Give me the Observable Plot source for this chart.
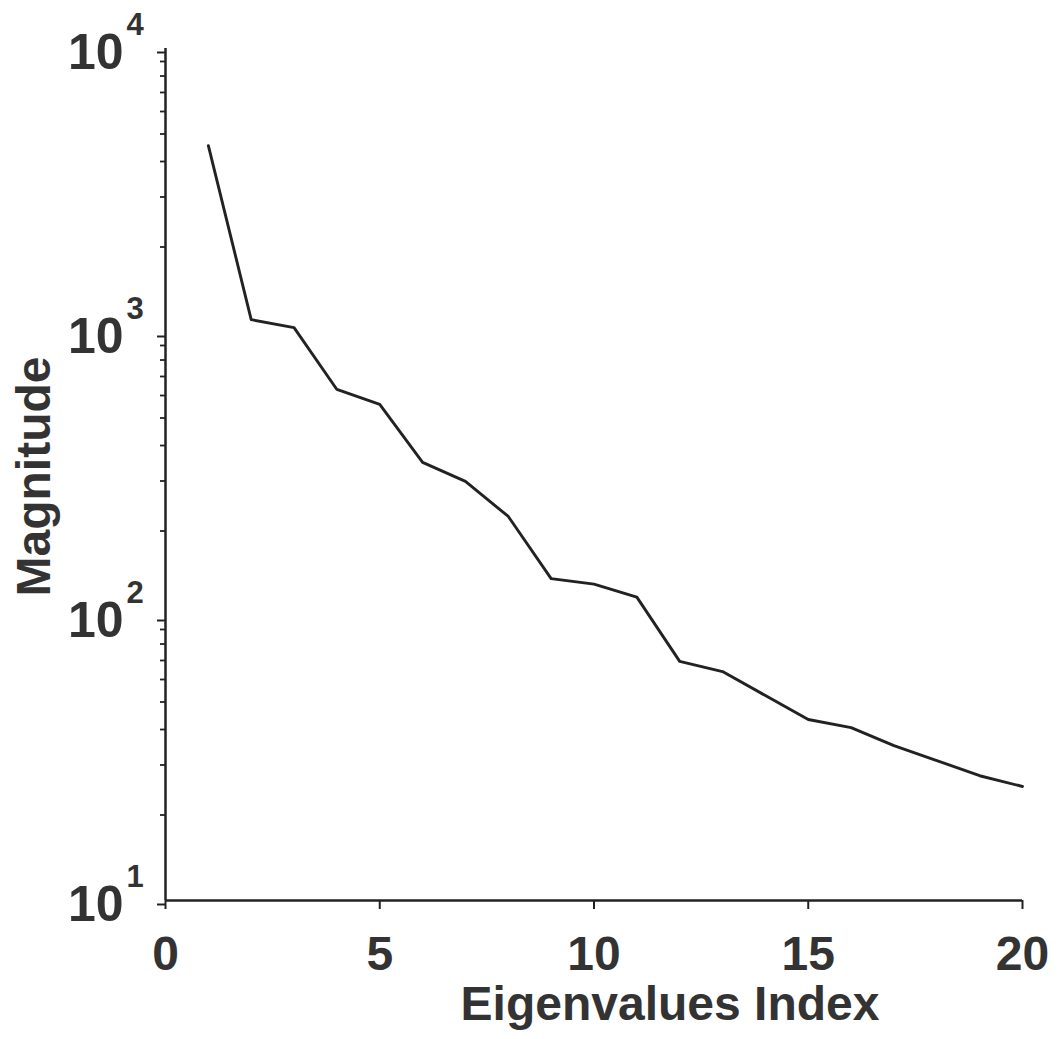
<!DOCTYPE html>
<html>
<head>
<meta charset="utf-8">
<script src="https://cdn.jsdelivr.net/npm/d3@7"></script>
<script src="https://cdn.jsdelivr.net/npm/@observablehq/plot@0.6"></script>
<style>
  html, body { margin: 0; padding: 0; background: #fff; }
  #chart { width: 1059px; height: 1039px; }
</style>
</head>
<body>
<div id="chart"></div>
<script>
// Data
const index = [1, 2, 3, 4, 5, 6, 7, 8, 9, 10, 11, 12, 13, 14, 15, 16, 17, 18, 19, 20];
const magnitude = [4550, 1110, 1040, 630, 558, 349, 299, 225, 136, 130, 117, 69.5, 64, 52.7, 43.4, 40.6, 35.1, 31.1, 27.5, 25.2];

const xTicks = [0, 5, 10, 15, 20];
const yMajorTicks = [10, 100, 1000, 10000];
const yMinorTicks = [];
for (const base of [10, 100, 1000]) for (let m = 2; m <= 9; m++) yMinorTicks.push(base * m);

const xLabel = "Eigenvalues Index";
const yLabel = "Magnitude";

const data = index.map((i, k) => ({index: i, value: magnitude[k]}));

const ink = "#222";
const textInk = "#333";
const font = "'Liberation Sans', Arial, Helvetica, sans-serif";

const chart = Plot.plot({
  width: 1059,
  height: 1039,
  marginLeft: 165,
  marginRight: 37,
  marginTop: 48,
  marginBottom: 139,
  style: {fontFamily: font, background: "#fff", color: textInk},
  x: {domain: [0, 20]},
  y: {type: "log", domain: [10, 10000]},
  marks: [
    // minor y ticks (no labels)
    Plot.axisY({ticks: yMinorTicks, tickSize: 5, tickFormat: () => "", stroke: ink, strokeWidth: 1.8, label: null}),
    // major y ticks with "10" base
    Plot.axisY({ticks: yMajorTicks, tickSize: 8, tickPadding: 34, tickFormat: () => "10",
      fontSize: 50, fontWeight: "bold", fill: textInk, stroke: ink, strokeWidth: 2, dy: 4, label: null}),
    // exponent superscripts
    Plot.text(yMajorTicks, {y: d => d, frameAnchor: "left", dx: -39, dy: -23, textAnchor: "start",
      text: d => String(Math.round(Math.log10(d))), fontSize: 31, fontWeight: "bold", fill: textInk}),
    // x axis ticks and labels
    Plot.axisX({ticks: xTicks, tickSize: 9, tickPadding: 26, fontSize: 48, fontWeight: "bold",
      fill: textInk, stroke: ink, strokeWidth: 2, label: null}),
    // axis lines
    Plot.ruleX([0], {y1: 10, y2: 10000, stroke: ink, strokeWidth: 2.5}),
    Plot.ruleY([10], {x1: 0, x2: 20, stroke: ink, strokeWidth: 2.5}),
    // data line
    Plot.line(data, {x: "index", y: "value", stroke: ink, strokeWidth: 2.9, strokeLinejoin: "round"}),
    // axis titles
    Plot.text([xLabel], {frameAnchor: "bottom", textAnchor: "middle", lineAnchor: "middle", dx: 76, dy: 104,
      fontSize: 48, fontWeight: "bold", fill: textInk}),
    Plot.text([yLabel], {frameAnchor: "left", textAnchor: "middle", lineAnchor: "middle", dx: -131, dy: 2, rotate: -90,
      fontSize: 48, fontWeight: "bold", fill: textInk})
  ]
});

document.getElementById("chart").appendChild(chart);
</script>
</body>
</html>
